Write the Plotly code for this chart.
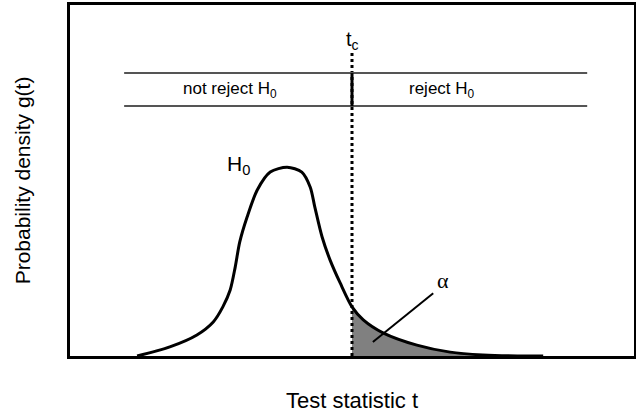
import plotly.graph_objects as go

# Density curve g(t) under H0
t_vals = [1.19, 1.77, 2.25, 2.54, 2.71, 2.84, 2.93, 3.01, 3.14, 3.32, 3.55, 3.85,
          4.11, 4.26, 4.34, 4.47, 4.61, 4.79, 5.00, 5.20, 5.55, 6.15, 6.74, 7.32, 7.93, 8.39]
g_vals = [0.000, 0.026, 0.060, 0.097, 0.140, 0.188, 0.254, 0.325, 0.396, 0.473, 0.524, 0.538,
          0.524, 0.481, 0.425, 0.339, 0.274, 0.208, 0.140, 0.103, 0.066, 0.031, 0.011, 0.003, 0.000, 0.000]

t_crit = 5.0
band_top = 0.806
band_bottom = 0.712
band_t = [0.96, 9.17]
dotted_top = 0.863

FONT = "Arial, Liberation Sans, sans-serif"

tail_t = [t for t in t_vals if t >= t_crit]
tail_g = [g for t, g in zip(t_vals, g_vals) if t >= t_crit]

fig = go.Figure()

# shaded rejection area alpha
fig.add_trace(go.Scatter(x=tail_t, y=tail_g, mode="lines", fill="tozeroy",
                         fillcolor="#808080", line=dict(color="rgba(0,0,0,0)", width=0, shape="spline", smoothing=0.8),
                         hoverinfo="skip", showlegend=False))
# density curve
fig.add_trace(go.Scatter(x=t_vals, y=g_vals, mode="lines",
                         line=dict(color="black", width=3, shape="spline", smoothing=0.8),
                         showlegend=False))
# critical value dotted line
fig.add_trace(go.Scatter(x=[t_crit, t_crit], y=[0, dotted_top], mode="lines",
                         line=dict(color="black", width=3, dash="dot"), showlegend=False))
# decision band lines
for yb in (band_top, band_bottom):
    fig.add_trace(go.Scatter(x=band_t, y=[yb, yb], mode="lines",
                             line=dict(color="#555555", width=2), showlegend=False))
fig.add_trace(go.Scatter(x=[t_crit, t_crit], y=[band_bottom, band_top], mode="lines",
                         line=dict(color="black", width=3), showlegend=False))
# alpha leader line
fig.add_trace(go.Scatter(x=[5.37, 6.44], y=[0.040, 0.179], mode="lines",
                         line=dict(color="black", width=2), showlegend=False))

ann = [
    dict(x=t_crit, y=0.900, text="t<sub>c</sub>", font=dict(size=20)),
    dict(x=2.84, y=0.757, text="not reject H<sub>0</sub>", font=dict(size=17)),
    dict(x=6.60, y=0.757, text="reject H<sub>0</sub>", font=dict(size=17)),
    dict(x=2.98, y=0.545, text="H<sub>0</sub>", font=dict(size=21)),
    dict(x=6.62, y=0.215, text="α", font=dict(size=22, family="Liberation Serif, Times New Roman, serif")),
]
for a in ann:
    fig.add_annotation(xref="x", yref="y", showarrow=False, **a)

fig.update_layout(
    width=636, height=413,
    margin=dict(l=70, r=2, t=5, b=57, autoexpand=False),
    paper_bgcolor="white", plot_bgcolor="white",
    font=dict(family=FONT, color="black", size=17),
    xaxis=dict(range=[0, 10], showgrid=False, zeroline=False, showticklabels=False, ticks="",
               showline=True, mirror=True, linecolor="black", linewidth=3, automargin=False,
               title=dict(text="Test statistic t", font=dict(size=22), standoff=37)),
    yaxis=dict(range=[0, 1], showgrid=False, zeroline=False, showticklabels=False, ticks="",
               showline=True, mirror=True, linecolor="black", linewidth=3, automargin=False,
               title=dict(text="Probability density g(t)", font=dict(size=21), standoff=31)),
)

fig.write_html("out.html", config={"displayModeBar": False},
               post_script="document.body.style.margin='0';document.body.style.overflow='hidden';")
